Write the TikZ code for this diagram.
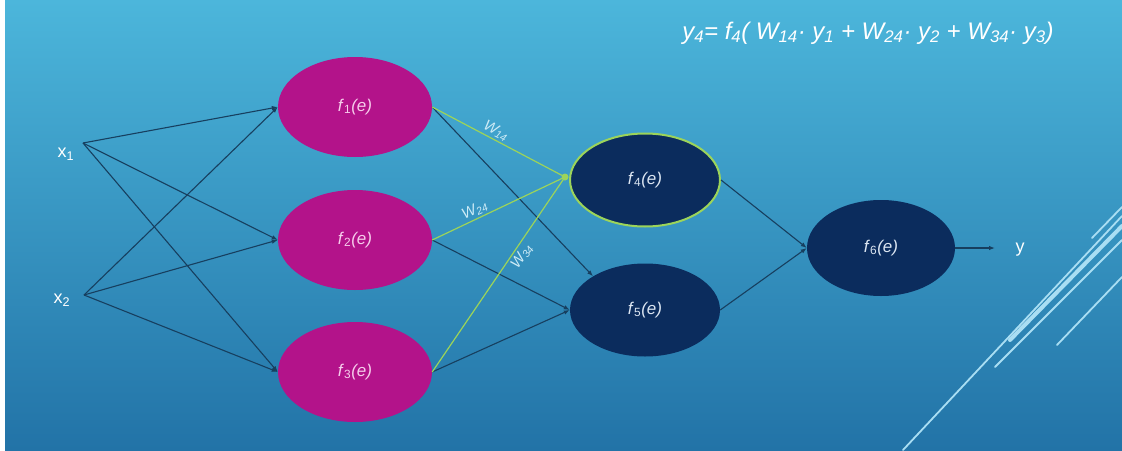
\documentclass[tikz,border=0pt]{standalone}
\usepackage{fontspec}
\setmainfont{Liberation Sans}
\usetikzlibrary{shapes.geometric,arrows.meta}
\definecolor{bgtop}{HTML}{4CB6DB}
\definecolor{bgbot}{HTML}{2273A7}
\definecolor{mag}{HTML}{B3138A}
\definecolor{magtext}{HTML}{F6CDEB}
\definecolor{navy}{HTML}{0B2C5D}
\definecolor{navytext}{HTML}{DCE6F2}
\definecolor{wire}{HTML}{173F5F}
\definecolor{lime}{HTML}{9CD45A}
\definecolor{deco}{HTML}{A9DEF3}
\definecolor{wlabel}{HTML}{CDEBF6}
\begin{document}
\begin{tikzpicture}[x=1pt,y=-1pt,
  neuron/.style={ellipse, minimum width=154pt, minimum height=100pt, inner sep=0pt,
                 font=\fontsize{17}{19}\selectfont},
  hid/.style={neuron, fill=mag, text=magtext},
  outn/.style={neuron, minimum width=150pt, minimum height=93pt, fill=navy, text=navytext},
  wire/.style={draw=wire, line width=1.1pt, -{Latex[length=6pt,width=4.5pt]}},
  green/.style={draw=lime, line width=1.2pt},
  wlab/.style={text=wlabel, font=\fontsize{15}{17}\selectfont\itshape, inner sep=2pt},
  xlab/.style={text=white, font=\fontsize{18}{20}\selectfont, inner sep=0pt},
  deco/.style={draw=deco, line cap=round}
]
\useasboundingbox (0,0) rectangle (1122,450);
\fill[white] (0,0) rectangle (1122,450);
\shade[top color=bgtop, bottom color=bgbot] (5,0) rectangle (1122,450);

% decorative lines
\draw[deco, line width=1.8pt] (903,450) -- (1122,216);
\draw[deco, line width=4pt] (1010,340) -- (1122,226);
\draw[deco, line width=1.8pt] (995,367) -- (1122,240);
\draw[deco, line width=1.8pt] (1057,345) -- (1122,277);
\draw[deco, line width=1.8pt] (1092,238) -- (1122,207);

% equation
\node[text=white, font=\fontsize{24}{28}\selectfont\itshape, inner sep=0pt] (eq) at (868,33)
  {y\textsubscript{4}= f\textsubscript{4}( W\textsubscript{14}· y\textsubscript{1} + W\textsubscript{24}· y\textsubscript{2} + W\textsubscript{34}· y\textsubscript{3})};

% nodes
\node[hid] (f1) at (355,107) {\textit{f}\textsubscript{1}\textit{(e)}};
\node[hid] (f2) at (355,240) {\textit{f}\textsubscript{2}\textit{(e)}};
\node[hid] (f3) at (355,372) {\textit{f}\textsubscript{3}\textit{(e)}};
\node[outn, draw=lime, line width=2pt] (f4) at (645,180) {\textit{f}\textsubscript{4}\textit{(e)}};
\node[outn] (f5) at (645,310) {\textit{f}\textsubscript{5}\textit{(e)}};
\node[outn, minimum width=148pt, minimum height=96pt] (f6) at (881,248) {\textit{f}\textsubscript{6}\textit{(e)}};

\node[xlab] (x1) at (66,154) {x\textsubscript{1}};
\node[xlab] (x2) at (62,300) {x\textsubscript{2}};
\node[xlab] (y) at (1020,250) {y};
\coordinate (o1) at (83,143);
\coordinate (o2) at (84,295);
\coordinate (yend) at (995,248);
\coordinate (j) at (565,177);

% input connections
\foreach \s in {o1,o2}
  \foreach \t in {f1,f2,f3}
    \draw[wire] (\s) -- (\t.west);

% hidden to f5
\draw[wire] (f1.east) -- (f5.147);
\draw[wire] (f2.east) -- (f5.west);
\draw[wire] (f3.east) -- (f5.west);

% green weighted lines to f4
\draw[green] (f1.east) -- node[wlab, sloped, above, pos=0.45] {W\textsubscript{14}} (j);
\draw[green] (f2.east) -- node[wlab, sloped, above, pos=0.35] {W\textsubscript{24}} (j);
\draw[green] (f3.east) -- node[wlab, sloped, below, pos=0.62] {W\textsubscript{34}} (j);
\fill[lime] (j) circle (3.5pt);

% to output
\draw[wire] (f4.east) -- (f6.west);
\draw[wire] (f5.east) -- (f6.west);
\draw[wire] (f6.east) -- (yend);
\end{tikzpicture}
\end{document}
